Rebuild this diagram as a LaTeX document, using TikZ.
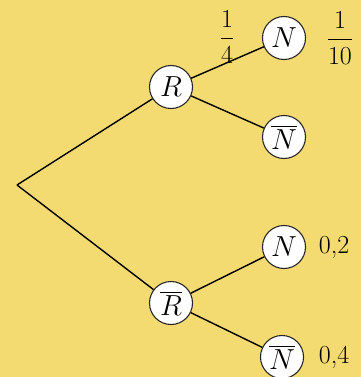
\RequirePackage{fix-cm}
\documentclass[tikz,border=0pt]{standalone}
\usepackage{amsmath}
\usetikzlibrary{positioning}
\definecolor{bgyellow}{RGB}{243,219,114}
\tikzset{
  event/.style={draw=black!85, circle, fill=white, line width=1.1pt, minimum size=43pt, inner sep=0pt, font=\fontsize{29}{31}\selectfont},
  branch/.style={line width=1.4pt, black},
  problabel/.style={font=\fontsize{26}{28}\selectfont, inner sep=1pt}
}
\begin{document}
\begin{tikzpicture}[x=1pt, y=-1pt]
  \fill[bgyellow] (0,0) rectangle (361,377);
  \useasboundingbox (0,0) rectangle (361,377);
  \coordinate (root) at (17,185);
  \node[event] (R) at (171,87) {$R$};
  \node[event] (Rb) at (171,303) {$\overline{R}$};
  \node[event] (N1) at (284,38) {$N$};
  \node[event] (N1b) at (284,137) {$\overline{N}$};
  \node[event] (N2) at (284,247) {$N$};
  \node[event] (N2b) at (282,357) {$\overline{N}$};
  \draw[branch] (root) -- (R);
  \draw[branch] (root) -- (Rb);
  \draw[branch] (R) -- (N1);
  \draw[branch] (R) -- (N1b);
  \draw[branch] (Rb) -- (N2);
  \draw[branch] (Rb) -- (N2b);
  % probabilities
  \node[problabel] (pN) at (227,37) {$\dfrac{1}{4}$};
  \node[problabel] (pRN) at (340,38) {$\dfrac{1}{10}$};
  \node[problabel] (pRbN) at (334,247) {0,2};
  \node[problabel] (pRbNb) at (334,357) {0,4};
\end{tikzpicture}
\end{document}
